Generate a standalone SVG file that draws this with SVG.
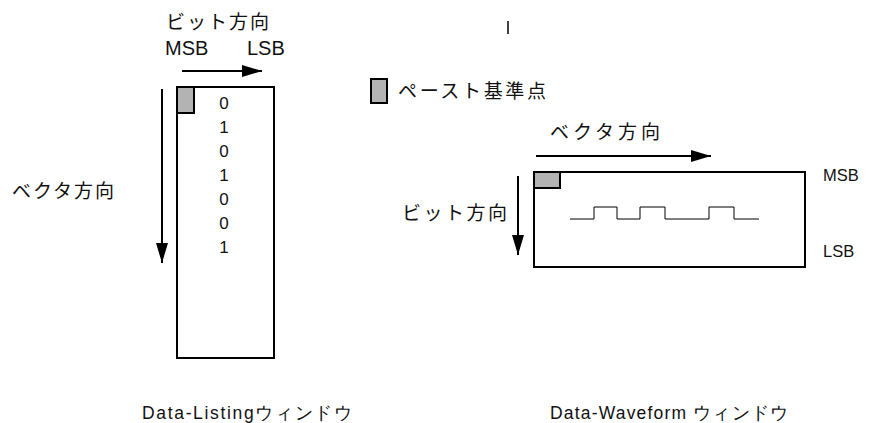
<svg xmlns="http://www.w3.org/2000/svg" width="882" height="423" viewBox="0 0 882 423">
<style>
.jp{font-family:"Noto Sans CJK JP","Liberation Sans",sans-serif;font-size:19px;fill:#111}
.lt{font-family:"Liberation Sans",Arial,sans-serif;fill:#111}
.box{fill:#fff;stroke:#000;stroke-width:2}
.pp{fill:#b3b3b3;stroke:#000;stroke-width:2}
.arr{stroke:#000;stroke-width:2;fill:none;marker-end:url(#ah)}
</style>
<defs>
<marker id="ah" markerUnits="userSpaceOnUse" markerWidth="20" markerHeight="12" refX="20" refY="6" orient="auto">
<path d="M0,0 L20,6 L0,12 Z" fill="#000"/>
</marker>
</defs>
<rect width="882" height="423" fill="#fff"/>
<line x1="508" y1="21" x2="508" y2="34" stroke="#000" stroke-width="1.5"/>
<g id="listing">
<rect class="box" x="177" y="87" width="97" height="271"/>
<rect class="pp" x="177" y="87" width="17" height="26"/>
<g class="lt" font-size="17" text-anchor="middle">
<text x="224" y="109">0</text>
<text x="224" y="133">1</text>
<text x="224" y="157">0</text>
<text x="224" y="181">1</text>
<text x="224" y="205">0</text>
<text x="224" y="229">0</text>
<text x="224" y="253">1</text>
</g>
<text class="lt" x="142" y="419" font-size="17.5" textLength="210" lengthAdjust="spacing">Data-Listingウィンドウ</text>
</g>
<g id="waveform">
<rect class="box" x="534" y="172" width="271" height="95"/>
<rect class="pp" x="534" y="172" width="26" height="16"/>
<polyline points="570,219 594,219 594,207 617,207 617,219 640,219 640,207 665,207 665,219 709,219 709,207 734,207 734,219 759,219" fill="none" stroke="#000" stroke-width="1"/>
<text class="lt" x="823" y="181" font-size="16.5">MSB</text>
<text class="lt" x="823" y="257" font-size="16.5">LSB</text>
<text class="lt" x="550" y="419" font-size="17.5" textLength="238" lengthAdjust="spacing">Data-Waveform ウィンドウ</text>
</g>
<g id="legend">
<rect class="pp" x="371" y="79" width="16" height="24"/>
<text class="jp" x="398" y="98" textLength="148" lengthAdjust="spacing">ペースト基準点</text>
</g>
<g id="labels">
<text class="jp" x="166" y="29" textLength="103" lengthAdjust="spacing">ビット方向</text>
<text class="lt" x="165" y="55" font-size="20">MSB</text>
<text class="lt" x="247" y="55" font-size="20">LSB</text>
<text class="jp" x="12" y="198" textLength="102" lengthAdjust="spacing">ベクタ方向</text>
<text class="jp" x="550" y="139" textLength="110" lengthAdjust="spacing">ベクタ方向</text>
<text class="jp" x="402" y="220" textLength="105" lengthAdjust="spacing">ビット方向</text>
</g>
<g id="connectors">
<line class="arr" x1="182" y1="71" x2="262" y2="71"/>
<line class="arr" x1="162" y1="89" x2="162" y2="263"/>
<line class="arr" x1="536" y1="156" x2="711" y2="156"/>
<line class="arr" x1="518" y1="176" x2="518" y2="255"/>
</g>
</svg>
